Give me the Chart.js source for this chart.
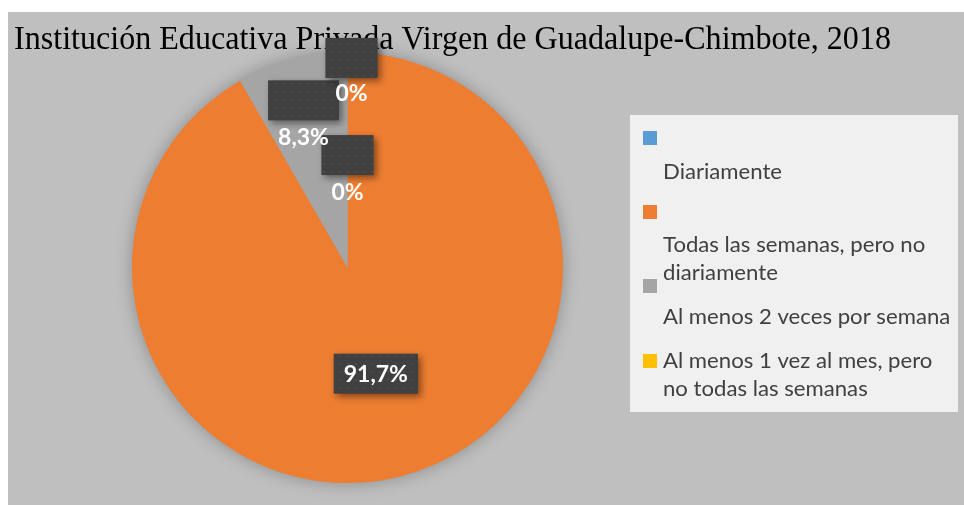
<!DOCTYPE html>
<html>
<head>
<meta charset="utf-8">
<script src="https://cdn.jsdelivr.net/npm/chart.js@4.4.0/dist/chart.umd.min.js"></script>
<style>
  html, body { margin: 0; padding: 0; background: #fff; }
  #wrap { width: 964px; height: 505px; position: relative; }
  canvas { display: block; }
</style>
</head>
<body>
<div id="wrap"><canvas id="chart" width="964" height="505"></canvas></div>
<script>
// data
const titleText = 'Institución Educativa Privada Virgen de Guadalupe-Chimbote, 2018';
const categories = [
    'Diariamente',
    'Todas las semanas, pero no diariamente',
    'Al menos 2 veces por semana',
    'Al menos 1 vez al mes, pero no todas las semanas'
];
const percentages = [0, 91.7, 8.3, 0];
const sliceColors = ['#5b9bd5', '#ed7d31', '#a5a5a5', '#ffc000'];

const fmtPct = v => (v === 0 ? '0' : v.toFixed(1).replace('.', ',')) + '%';

// dotted dark fill used behind the data labels
function dotPattern(ctx) {
    const p = document.createElement('canvas');
    p.width = 8; p.height = 8;
    const g = p.getContext('2d');
    g.fillStyle = '#404040';
    g.fillRect(0, 0, 8, 8);
    g.fillStyle = '#4b4b4b';
    g.fillRect(3, 3, 2, 2);
    return ctx.createPattern(p, 'repeat');
}

function wrapText(ctx, text, maxW, sx) {
    const words = text.split(' ');
    const lines = [];
    let line = '';
    words.forEach(w => {
        const t = line ? line + ' ' + w : w;
        if (ctx.measureText(t).width * sx > maxW && line) { lines.push(line); line = w; }
        else line = t;
    });
    if (line) lines.push(line);
    return lines;
}

/* ── background, title, shadow ── */
const framePlugin = {
    id: 'frame',
    beforeDraw(chart) {
        const { ctx } = chart;
        ctx.save();
        ctx.fillStyle = '#fff';
        ctx.fillRect(0, 0, chart.width, chart.height);
        ctx.fillStyle = '#bfbfbf';
        ctx.fillRect(8, 12, chart.width - 8, chart.height - 12);
        ctx.fillStyle = '#000';
        ctx.font = '34px "Liberation Serif", "Times New Roman", serif';
        ctx.textBaseline = 'alphabetic';
        // the title in the reference is set narrow: squeeze it to its width
        const tw = ctx.measureText(titleText).width;
        ctx.translate(14, 49);
        ctx.scale(877 / tw, 1);
        ctx.fillText(titleText, 0, 0);
        ctx.restore();
    },
    beforeDatasetsDraw(chart) {
        const arc = chart.getDatasetMeta(0).data[1];
        if (!arc) return;
        const { ctx } = chart;
        ctx.save();
        ctx.shadowColor = 'rgba(0,0,0,0.3)';
        ctx.shadowBlur = 18;
        ctx.fillStyle = '#a0a0a0';
        ctx.beginPath();
        ctx.arc(arc.x, arc.y, arc.outerRadius - 1, 0, Math.PI * 2);
        ctx.fill();
        ctx.restore();
    }
};

/* ── data labels: dark boxes, text sits under the box for the small slices ── */
const labelLayout = [
    { r: 0.35, dx: 0, box: -37 },
    { r: 0.51, dx: 0, box: 0 },
    { r: 0.63, dx: -9, box: -36 },
    { r: 0.81, dx: 4, box: -35 }
];

const labelPlugin = {
    id: 'boxLabels',
    afterDatasetsDraw(chart) {
        const { ctx } = chart;
        const meta = chart.getDatasetMeta(0);
        const pattern = dotPattern(ctx);
        ctx.save();
        ctx.font = 'bold 23px Lato, "Open Sans", sans-serif';
        ctx.textAlign = 'center';
        ctx.textBaseline = 'middle';
        meta.data.forEach((arc, i) => {
            const lay = labelLayout[i];
            const mid = (arc.startAngle + arc.endAngle) / 2;
            const rr = arc.outerRadius * lay.r;
            const x = arc.x + Math.cos(mid) * rr + lay.dx;
            const y = arc.y + Math.sin(mid) * rr;
            const txt = fmtPct(percentages[i]);
            const w = ctx.measureText(txt).width + 20;
            const h = 40;
            const bx = x - w / 2, by = y + lay.box - h / 2;
            ctx.save();
            ctx.shadowColor = 'rgba(0,0,0,0.45)';
            ctx.shadowBlur = 7;
            ctx.shadowOffsetX = 3;
            ctx.shadowOffsetY = 3;
            ctx.fillStyle = pattern;
            ctx.fillRect(bx, by, w, h);
            ctx.restore();
            ctx.fillStyle = '#fff';
            ctx.fillText(txt, x, y + 1);
        });
        ctx.restore();
    }
};

/* ── legend panel on the right ── */
const legendLayout = { x: 630, y: 115, w: 328, h: 297, markerX: 643, textX: 663,
    markerY: [138, 212, 286, 361], textY: [172, 245, 317, 361], lineH: 28 };

const legendPlugin = {
    id: 'sideLegend',
    afterDraw(chart) {
        const { ctx } = chart;
        const L = legendLayout;
        ctx.save();
        ctx.fillStyle = '#f0f0f0';
        ctx.fillRect(L.x, L.y, L.w, L.h);
        categories.forEach((cat, i) => {
            ctx.fillStyle = sliceColors[i];
            ctx.fillRect(L.markerX, L.markerY[i] - 7, 14, 14);
        });
        ctx.font = '21px Lato, "Open Sans", sans-serif';
        ctx.textBaseline = 'middle';
        ctx.fillStyle = '#404040';
        const sx = 1.055;
        categories.forEach((cat, i) => {
            wrapText(ctx, cat, 290, sx).forEach((ln, k) => {
                ctx.save();
                ctx.translate(L.textX, L.textY[i] + k * L.lineH);
                ctx.scale(sx, 1);
                ctx.fillText(ln, 0, 0);
                ctx.restore();
            });
        });
        ctx.restore();
    }
};

new Chart(document.getElementById('chart'), {
    type: 'pie',
    data: {
        labels: categories,
        datasets: [{ data: percentages, backgroundColor: sliceColors, borderWidth: 0 }]
    },
    options: {
        responsive: false,
        animation: false,
        layout: { padding: { left: 132, right: 401, top: 52, bottom: 22 } },
        plugins: { legend: { display: false }, tooltip: { enabled: false } }
    },
    plugins: [framePlugin, labelPlugin, legendPlugin]
});
</script>
</body>
</html>
